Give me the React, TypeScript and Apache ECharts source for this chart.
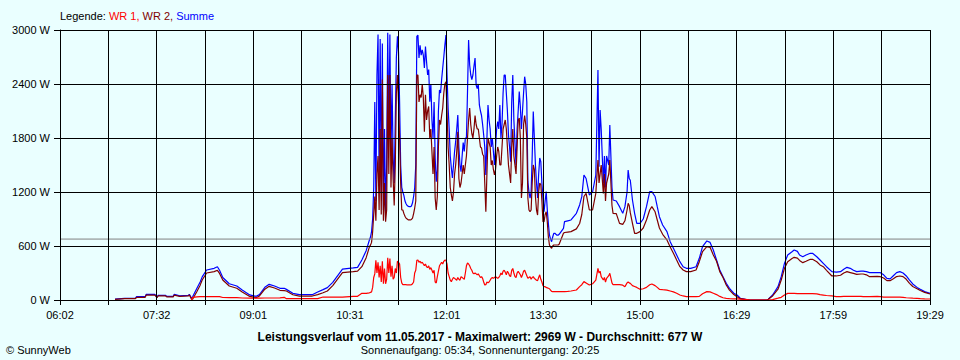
import React, { useEffect, useRef } from "react";
import * as echarts from "echarts";

// Axis range (minutes after midnight)
const AXIS_START = 362; // 06:02
const AXIS_END = 1169; // 19:29
const xTickLabels = ["06:02", "07:32", "09:01", "10:31", "12:01", "13:30", "15:00", "16:29", "17:59", "19:29"];
const yMax = 3000;
const yStep = 600;
const averageW = 677;

const legendParts = ["Legende: ", "WR 1, ", "WR 2, ", "Summe"];
const titleText = "Leistungsverlauf vom 11.05.2017 - Maximalwert: 2969 W - Durchschnitt: 677 W";
const subtitleText = "Sonnenaufgang: 05:34, Sonnenuntergang: 20:25";
const copyrightText = "© SunnyWeb";

// Sample times, minutes after midnight
const times = [
  413, 422, 432, 433, 441, 442, 450, 452, 453, 460,
  461, 467, 468, 473, 481, 482, 484, 485, 489, 492,
  494, 498, 505, 508, 510, 513, 519, 526, 531, 538,
  544, 547, 552, 556, 561, 566, 570, 572, 578, 584,
  596, 601, 606, 610, 615, 624, 634, 638, 642, 646,
  649, 650,
  651, 652, 653, 654, 655, 656, 657, 658, 659, 660,
  661, 662, 663, 664, 665, 666, 667, 668, 669, 670,
  671, 672, 673, 674, 675, 676, 677, 678, 679, 680,
  681, 682, 683, 684, 685, 686, 687, 688, 689, 690,
  691, 692, 693, 694, 695, 696, 697, 698, 699, 700,
  701, 702, 703, 704, 705, 706, 707, 708, 709, 710,
  711, 712, 713, 714, 715, 716, 717, 718, 719, 720,
  721, 722, 723, 724, 725, 726, 727, 728, 729, 730,
  731, 732, 733, 734, 735, 736, 737, 738, 739, 740,
  741, 742, 743, 744, 745, 746, 747, 748, 749, 750,
  751, 752, 753, 754, 755, 756, 757, 758, 759, 760,
  761, 762, 763, 764, 765, 766, 767, 768, 769, 770,
  771, 772, 773, 774, 775, 776, 777, 778, 779, 780,
  781, 782, 783, 784, 785, 786, 787, 788, 789, 790,
  791, 792, 793, 794, 795, 796, 797, 798, 799, 800,
  801, 802, 803, 804, 805, 806, 807, 808, 809, 810,
  811, 812, 813, 814, 815, 816, 817, 818, 819, 820,
  821, 822, 823, 824, 825,
  829, 830, 833, 836, 841, 844, 846, 848, 850, 853,
  856, 859, 861, 862, 863, 864, 866, 867, 868, 869,
  871, 872, 874, 875, 878, 881, 884, 886, 888, 889,
  890, 891, 893, 895, 897, 900, 903, 906, 909, 911,
  914, 916, 918, 921, 925, 928, 931, 934, 937, 940,
  943, 947, 952, 955, 958, 962, 965, 968, 971, 974,
  977, 980, 983, 987, 990, 993, 998, 1002, 1018,
  1019, 1023, 1028, 1031, 1034, 1037, 1041, 1043, 1046, 1048,
  1051, 1054, 1058, 1060, 1064, 1067, 1070, 1073, 1078, 1082,
  1086, 1089, 1092, 1095, 1098, 1101, 1105, 1107, 1110, 1113,
  1120, 1123, 1126, 1129, 1132, 1135, 1138, 1141, 1144, 1147,
  1150, 1153, 1157, 1160, 1164, 1169,
];

// Summe (W)
const summe = [
  10, 19, 19, 37, 37, 63, 63, 30, 52, 52,
  40, 40, 63, 46, 52, 63, 20, 35, 130, 200,
  260, 333, 352, 370, 330, 250, 180, 155, 111, 56,
  41, 60, 141, 174, 156, 130, 130, 118, 74, 59,
  59, 89, 115, 137, 196, 344, 356, 363, 444, 548,
  667, 700,
  760, 900, 1250, 2200, 1100, 2500, 2950, 1400, 2900, 1200,
  2850, 1000, 1900, 980, 1500, 2969, 1800, 2950, 1600, 2400,
  1580, 1300, 2000, 2690, 2930, 2750, 2200, 1500, 1250, 1200,
  1160, 1100, 1070, 1050, 1040, 1037, 1037, 1045, 1080, 1150,
  1244, 1500, 2930, 2944, 2690, 2830, 2720, 2780, 2722, 2578,
  2815, 2650, 2500, 2560, 2204, 2400, 2000, 1800, 2200, 1578,
  1315, 1450, 2100, 2333, 2300, 2450, 2578, 2700, 2833, 2944,
  2500, 2133, 1900, 1600, 1467, 1356, 1500, 1650, 1759, 1900,
  2056, 1700, 1500, 1426, 1600, 1750, 1650, 1800, 1800, 2315,
  2889, 2611, 2500, 2450, 2500, 2600, 2689, 2389, 2350, 2400,
  2167, 2100, 2050, 1950, 1833, 1700, 1389, 1800, 2167, 2000,
  1900, 1700, 1800, 1650, 1500, 1700, 1900, 1981, 1900, 2167,
  1800, 1950, 2300, 2500, 2500, 2300, 2100, 1833, 1700, 1537,
  2200, 2500, 2000, 1750, 1500, 1900, 2100, 2315, 2150, 1900,
  2100, 2300, 2481, 2400, 2200, 1315, 1200, 1133, 1200, 1600,
  2093, 1800, 1500, 1300, 1133, 1400, 1578, 1537, 1300, 1133,
  981, 1100, 1204, 1000, 850, 722, 680, 648, 700, 741,
  741, 730, 720, 720, 730,
  796, 870, 880, 889, 963, 1056, 1148, 1389, 1350, 1167,
  1200, 1389, 2556, 1480, 2111, 1900, 1296, 1600, 1250, 1600,
  1500, 1944, 1250, 1111, 1100, 1037, 963, 1037, 1200, 1444,
  1350, 1330, 1111, 963, 852, 852, 900, 1037, 1204, 1204,
  1150, 1037, 926, 833, 759, 648, 574, 500, 426, 370,
  352, 352, 370, 463, 593, 656, 640, 556, 444, 333,
  259, 185, 130, 75, 56, 19, 8, 0, 0,
  10, 56, 148, 259, 407, 500, 537, 556, 540, 500,
  481, 500, 519, 519, 481, 444, 407, 370, 315, 310,
  315, 341, 363, 352, 330, 315, 320, 320, 315, 304,
  304, 304, 280, 241, 235, 270, 304, 315, 300, 267,
  222, 178, 140, 119, 93, 74,
];

// WR 2 (W)
const wr2 = [
  8, 15, 15, 30, 30, 55, 55, 25, 45, 45,
  35, 35, 55, 40, 45, 55, 10, 8, 95, 165,
  225, 300, 315, 330, 295, 222, 155, 130, 90, 40,
  25, 45, 120, 152, 133, 108, 105, 100, 58, 44,
  44, 60, 80, 100, 160, 305, 315, 320, 370, 470,
  590, 610,
  640, 760, 950, 1150, 880, 1400, 1600, 1000, 1900, 950,
  2450, 880, 1300, 870, 1000, 2500, 1400, 2500, 1250, 1800,
  1350, 1050, 1500, 2300, 2500, 2200, 1800, 1300, 1000, 1000,
  960, 930, 910, 900, 890, 890, 890, 895, 910, 960,
  1022, 1100, 2500, 2500, 2200, 2280, 2250, 2400, 2250, 1870,
  2280, 2000, 2100, 2150, 1800, 1900, 1650, 1400, 1700, 1133,
  1000, 1150, 1700, 2000, 1950, 2050, 2133, 2300, 2400, 2426,
  2100, 1700, 1500, 1250, 1167, 1100, 1200, 1400, 1500, 1650,
  1870, 1350, 1250, 1300, 1400, 1500, 1400, 1500, 1600, 1800,
  2000, 2133, 1950, 1850, 1800, 1900, 2050, 1950, 1900, 1900,
  1800, 1700, 1689, 1620, 1600, 1300, 981, 1400, 1800, 1750,
  1700, 1500, 1550, 1450, 1389, 1450, 1600, 1700, 1650, 1500,
  1500, 1700, 1900, 1950, 2000, 1900, 1700, 1500, 1400, 1300,
  1700, 1900, 1600, 1500, 1400, 1700, 2000, 2022, 1800, 1133,
  1300, 1950, 2050, 1950, 1800, 1133, 1000, 981, 1000, 1300,
  1500, 1450, 1150, 1000, 944, 1200, 1300, 1280, 1100, 870,
  870, 950, 980, 870, 700, 611, 590, 574, 600, 611,
  611, 611, 611, 611, 620,
  741, 750, 755, 760, 790, 850, 950, 1150, 1185, 1000,
  1000, 1185, 1556, 1300, 1400, 1500, 1185, 1400, 1100, 1300,
  1400, 1556, 1050, 963, 960, 852, 840, 880, 1000, 1074,
  1050, 970, 852, 741, 741, 760, 800, 889, 1000, 1037,
  980, 889, 800, 730, 667, 590, 520, 444, 370, 333,
  315, 315, 333, 426, 537, 593, 585, 500, 430, 315,
  250, 167, 110, 60, 37, 15, 5, 0, 0,
  8, 45, 120, 222, 352, 426, 460, 474, 465, 440,
  415, 430, 452, 452, 425, 390, 370, 330, 267, 267,
  275, 300, 315, 305, 295, 285, 289, 289, 280, 259,
  262, 259, 245, 215, 215, 235, 260, 267, 260, 230,
  185, 150, 125, 105, 85, 67,
];

// WR 1 (W)
const wr1 = [
  null, null, null, null, null, null, null, null, null, null,
  null, null, null, null, null, null, 0, 30, 35, 37,
  37, 37, 37, 37, 37, 28, 26, 26, 22, 20,
  20, 20, 22, 22, 22, 24, 30, 15, 15, 15,
  15, 15, 33, 33, 33, 33, 41, 41, 74, 74,
  80, 85,
  90, 140, 250, 290, 440, 300, 420, 250, 380, 200,
  430, 180, 350, 180, 230, 470, 300, 460, 260, 380,
  230, 250, 350, 300, 430, 420, 400, 250, 190, 170,
  170, 170, 170, 167, 167, 167, 167, 170, 180, 200,
  300, 330, 440, 444, 420, 430, 410, 420, 400, 380,
  400, 370, 360, 380, 340, 360, 330, 300, 330, 200,
  189, 260, 320, 380, 400, 420, 400, 430, 444, 440,
  400, 300, 260, 220, 204, 230, 250, 240, 230, 220,
  250, 230, 220, 260, 250, 240, 230, 300, 380, 411,
  400, 380, 350, 330, 300, 290, 300, 290, 280, 290,
  270, 250, 260, 240, 200, 167, 170, 200, 190, 200,
  220, 240, 250, 240, 250, 260, 250, 240, 250, 270,
  300, 280, 320, 330, 310, 280, 320, 300, 270, 260,
  330, 350, 300, 260, 250, 300, 320, 300, 280, 250,
  280, 320, 330, 300, 270, 240, 250, 260, 230, 250,
  260, 240, 230, 220, 215, 250, 280, 230, 200, 160,
  148, 148, 140, 135, 130, 125, 110, 95, 93, 93,
  93, 93, 93, 93, 93,
  93, 93, 96, 100, 111, 148, 170, 204, 190, 167,
  180, 222, 352, 300, 320, 260, 222, 250, 200, 240,
  270, 296, 190, 170, 170, 170, 165, 148, 190, 200,
  190, 185, 160, 150, 140, 119, 125, 140, 170, 178,
  160, 140, 119, 115, 110, 100, 90, 75, 56, 45,
  37, 37, 37, 40, 70, 93, 90, 75, 60, 40,
  25, 19, 15, 12, 12, 10, 8, 0, 0,
  0, 5, 20, 30, 56, 74, 74, 74, 70, 70,
  70, 70, 70, 70, 68, 59, 55, 50, 45, 37,
  37, 40, 40, 40, 40, 40, 40, 37, 37, 37,
  40, 37, 33, 33, 33, 33, 33, 33, 30, 25,
  22, 20, 18, 15, 12, 11,
];

const FONT = '"Liberation Sans", Arial, sans-serif';

export default function App() {
  const ref = useRef<HTMLDivElement>(null);

  useEffect(() => {
    document.body.style.margin = "0";
    const chart = echarts.init(ref.current!, null, { renderer: "svg" });
    const span = (AXIS_END - AXIS_START) * 60; // seconds
    const step = span / 18;
    const toX = (t: number) => (t - AXIS_START) * 60;
    const mk = (vals: (number | null)[]) => times.map((t, i) => [toX(t), vals[i]]);

    const lineSeries = (name: string, vals: (number | null)[], color: string, z: number) => ({
      type: "line",
      name,
      data: mk(vals),
      showSymbol: false,
      symbol: "none",
      silent: true,
      z,
      lineStyle: { color, width: 1.2 },
      itemStyle: { color },
    });

    chart.setOption({
      animation: false,
      backgroundColor: "#EAFFFF",
      grid: { left: 60, right: 30, top: 30, bottom: 60, containLabel: false },
      xAxis: {
        type: "value",
        min: 0,
        max: span,
        interval: step,
        z: 5,
        axisLine: { show: true, lineStyle: { color: "#000", width: 1 } },
        axisTick: { show: true, length: 5, lineStyle: { color: "#000", width: 1 } },
        splitLine: { show: true, lineStyle: { color: "#000", width: 1 } },
        axisLabel: {
          showMinLabel: true,
          showMaxLabel: true,
          color: "#000",
          fontSize: 11,
          fontFamily: FONT,
          margin: 9,
          formatter: (v: number) => {
            const k = Math.round(v / step);
            return k % 2 === 0 ? xTickLabels[k / 2] ?? "" : "";
          },
        },
      },
      yAxis: {
        type: "value",
        min: 0,
        max: yMax,
        interval: yStep,
        z: 5,
        axisLine: { show: true, lineStyle: { color: "#000", width: 1 } },
        axisTick: { show: true, length: 6, lineStyle: { color: "#000", width: 1 } },
        splitLine: { show: true, lineStyle: { color: "#000", width: 1 } },
        axisLabel: {
          color: "#000",
          fontSize: 11,
          fontFamily: FONT,
          margin: 10,
          formatter: (v: number) => `${v} W`,
        },
      },
      series: [
        lineSeries("Summe", summe, "#0000FF", 2),
        lineSeries("WR 2", wr2, "#800000", 3),
        lineSeries("WR 1", wr1, "#FF0000", 3),
        {
          type: "line",
          name: "Durchschnitt",
          data: [[0, averageW], [span, averageW]],
          showSymbol: false,
          symbol: "none",
          silent: true,
          z: 4,
          lineStyle: { color: "#808080", width: 1 },
        },
      ],
      graphic: [
        {
          type: "text",
          x: 60,
          y: 16,
          style: {
            text: `{k|${legendParts[0]}}{a|${legendParts[1]}}{b|${legendParts[2]}}{c|${legendParts[3]}}`,
            fontSize: 11,
            fontFamily: FONT,
            textVerticalAlign: "middle",
            verticalAlign: "middle",
            rich: {
              k: { fill: "#000", color: "#000", fontSize: 11, fontFamily: FONT },
              a: { fill: "#FF0000", color: "#FF0000", fontSize: 11, fontFamily: FONT },
              b: { fill: "#800000", color: "#800000", fontSize: 11, fontFamily: FONT },
              c: { fill: "#0000FF", color: "#0000FF", fontSize: 11, fontFamily: FONT },
            },
          },
        },
        {
          type: "text",
          x: 480,
          y: 337,
          style: {
            text: titleText,
            fill: "#000",
            fontSize: 12,
            fontWeight: "bold",
            fontFamily: FONT,
            textAlign: "center",
            align: "center",
            textVerticalAlign: "middle",
            verticalAlign: "middle",
          },
        },
        {
          type: "text",
          x: 480,
          y: 350,
          style: {
            text: subtitleText,
            fill: "#000",
            fontSize: 11,
            fontFamily: FONT,
            textAlign: "center",
            align: "center",
            textVerticalAlign: "middle",
            verticalAlign: "middle",
          },
        },
        {
          type: "text",
          x: 6,
          y: 350,
          style: {
            text: copyrightText,
            fill: "#000",
            fontSize: 11,
            fontFamily: FONT,
            textVerticalAlign: "middle",
            verticalAlign: "middle",
          },
        },
      ],
    });

    return () => chart.dispose();
  }, []);

  return <div ref={ref} style={{ width: 960, height: 360 }} />;
}
